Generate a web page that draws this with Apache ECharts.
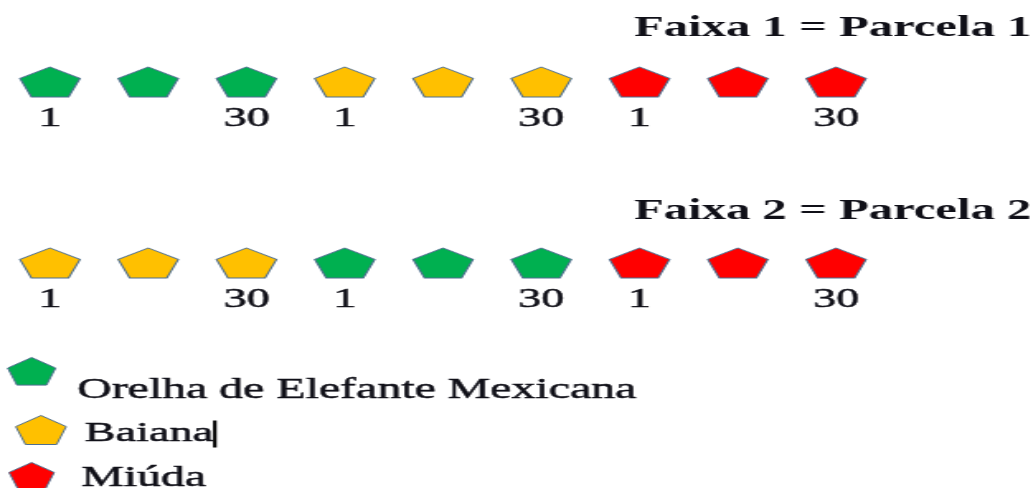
<!DOCTYPE html>
<html><head><meta charset="utf-8">
<script src="https://cdn.jsdelivr.net/npm/echarts@6/dist/echarts.min.js"></script>
<style>
html,body{margin:0;padding:0;background:#fff;overflow:hidden}
#wrap{width:1035px;height:488px;overflow:hidden}
#c{width:627px;height:488px;transform:scaleX(1.65);transform-origin:0 0}
</style></head>
<body><div id="wrap"><div id="c"></div></div>
<script>
// ---- data ----
const species = ['Orelha de Elefante Mexicana', 'Baiana', 'Miúda'];
const speciesColors = ['#00B050', '#FFC000', '#FF0000'];
const rowTitles = ['Faixa 1 = Parcela 1', 'Faixa 2 = Parcela 2'];
const slots = ['1', '2', '3', '4', '5', '6', '7', '8', '9'];
const faixa1 = [0, 0, 0, 1, 1, 1, 2, 2, 2];
const faixa2 = [1, 1, 1, 0, 0, 0, 2, 2, 2];
const plantLabels = ['1', '', '30', '1', '', '30', '1', '', '30'];

// ---- build ----
const FONT = 'Liberation Serif';
const TXT = '#101018';
const PENT = 'path://M50,0 L97.55,34.55 L79.39,90.45 L20.61,90.45 L2.45,34.55 Z';
const rows = [faixa1, faixa2];

const series = species.map((name, k) => {
  const data = [];
  rows.forEach((row, r) => row.forEach((sp, i) => {
    if (sp === k) data.push([slots[i], r, plantLabels[i]]);
  }));
  return {
    name, type: 'scatter', symbol: PENT, symbolSize: [36.4, 30],
    itemStyle: { color: speciesColors[k], borderColor: '#4f6f8f', borderWidth: 1, opacity: 1 },
    label: {
      show: true, position: 'bottom', distance: 7,
      formatter: p => p.value[2],
      fontFamily: FONT, fontSize: 28, color: TXT, opacity: 1,
      textBorderColor: TXT, textBorderWidth: 0.5
    },
    emphasis: { disabled: true },
    data
  };
});

const legendCfg = [
  { left: 4.2, top: 357, w: 29, h: 30, pad: [38, 0, 0, 8], fs: 29 },
  { left: 9.1, top: 415, w: 35, h: 29, pad: [8, 0, 0, 4], fs: 28 },
  { left: 5, top: 462, w: 36, h: 26, pad: [6, 0, 0, 7], fs: 29 }
];
const legends = species.map((name, k) => ({
  data: [name], orient: 'vertical', left: legendCfg[k].left, top: legendCfg[k].top,
  padding: 0, icon: PENT, itemWidth: legendCfg[k].w, itemHeight: legendCfg[k].h,
  selectedMode: false,
  itemStyle: { borderColor: '#4f6f8f', borderWidth: 1, opacity: 1 },
  formatter: k === 1 ? '{n|{name}}{c|}' : '{name}',
  textStyle: {
    fontFamily: FONT, fontSize: legendCfg[k].fs, color: TXT, padding: legendCfg[k].pad,
    textBorderColor: TXT, textBorderWidth: 0.5,
    rich: {
      n: { fontFamily: FONT, fontSize: legendCfg[k].fs, color: TXT, textBorderColor: TXT, textBorderWidth: 0.5 },
      c: { backgroundColor: '#000', width: 2.2, height: 27 }
    }
  }
}));

const chart = echarts.init(document.getElementById('c'), null, { renderer: 'canvas' });
chart.setOption({
  animation: false,
  backgroundColor: '#fff',
  textStyle: { fontFamily: FONT, color: TXT },
  title: rowTitles.map((t, r) => ({
    text: t, right: 2, top: r === 0 ? 13 : 196, padding: 0,
    textStyle: { fontFamily: FONT, fontWeight: 'bold', fontSize: 29.5, color: TXT }
  })),
  legend: legends,
  grid: { left: 0.5, width: 536, top: 82, bottom: 225 },
  xAxis: { type: 'category', data: slots, show: false, boundaryGap: true },
  yAxis: { type: 'value', min: 0, max: 1, inverse: true, show: false },
  series
});
</script>
</body></html>
